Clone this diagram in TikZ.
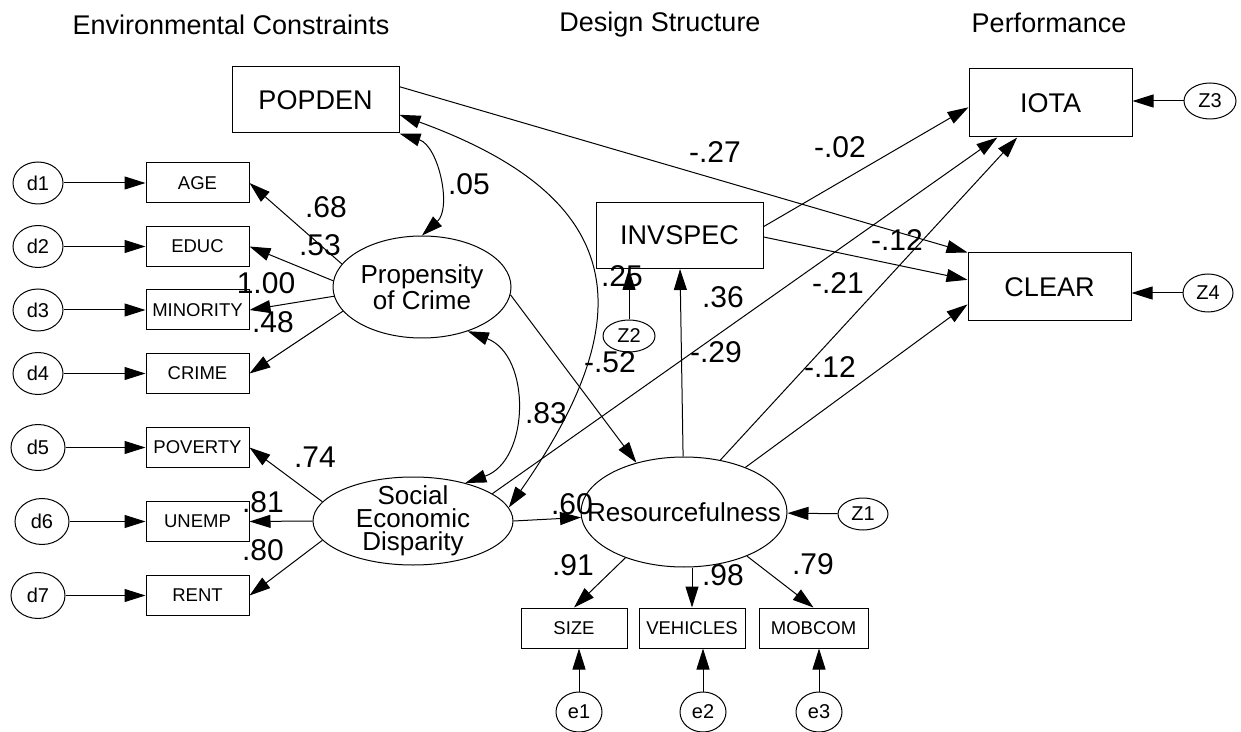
\documentclass[tikz,border=0pt]{standalone}
\usepackage{fontspec}
\setmainfont{Liberation Sans}
\usetikzlibrary{arrows.meta}
\usetikzlibrary{shapes.geometric}

\begin{document}
\begin{tikzpicture}[x=0.5pt,y=0.5pt,line width=0.5pt,node distance=31.75pt,
    >={Triangle[length=10.5pt,width=6.5pt]},
    obs/.style={draw,rectangle,inner sep=0pt,minimum width=51.5pt,minimum height=20pt,font=\fontsize{9.25}{11}\selectfont},
    big/.style={draw,rectangle,inner sep=0pt,minimum width=83.5pt,minimum height=33pt,font=\fontsize{13.5}{16}\selectfont},
    lat/.style={draw,ellipse,inner sep=0pt,label={[align=center,inner sep=0pt,font=\fontsize{13}{11.5}\selectfont]center:#1}},
    err/.style={draw,ellipse,inner sep=0pt,minimum width=25pt,minimum height=21pt,font=\fontsize{10}{12}\selectfont},
    coef/.style={inner sep=0pt,font=\fontsize{15}{18}\selectfont},
    head/.style={inner sep=0pt,font=\fontsize{13.5}{16}\selectfont}]
  \useasboundingbox (0,0) rectangle (1241,-732);

  \node[head] (ENV) at (231,-25) {Environmental Constraints};
  \node[head] (DES) at (660,-25) {Design Structure};
  \node[head] (PERF) at (1049,-23) {Performance};

  \node[big] (POPDEN) at (315.5,-100) {POPDEN};
  \node[big] (INVSPEC) at (679.5,-235.5) {INVSPEC};
  \node[big,minimum width=81.5pt,minimum height=34pt] (IOTA) at (1050.5,-103) {IOTA};
  \node[big,minimum width=81.5pt,minimum height=34pt] (CLEAR) at (1049.5,-287) {CLEAR};

  \node[obs] (AGE) at (197.5,-183) {AGE};
  \node[obs] (EDUC) [below of=AGE] {EDUC};
  \node[obs] (MINORITY) [below of=EDUC] {MINORITY};
  \node[obs] (CRIME) [below of=MINORITY] {CRIME};
  \node[obs] (POVERTY) [below of=CRIME,node distance=37pt] {POVERTY};
  \node[obs] (UNEMP) [below of=POVERTY,node distance=37pt] {UNEMP};
  \node[obs] (RENT) [below of=UNEMP,node distance=37pt] {RENT};

  \node[err] (d1) [left of=AGE,node distance=79.75pt] {d1};
  \node[err] (d2) [left of=EDUC,node distance=79.75pt] {d2};
  \node[err] (d3) [left of=MINORITY,node distance=79.75pt] {d3};
  \node[err] (d4) [left of=CRIME,node distance=79.75pt] {d4};
  \node[err,minimum width=27pt,minimum height=23pt] (d5) [left of=POVERTY,node distance=79.75pt] {d5};
  \node[err,minimum width=27pt,minimum height=23pt] (d6) [left of=UNEMP,node distance=77.75pt] {d6};
  \node[err,minimum width=27pt,minimum height=23pt] (d7) [left of=RENT,node distance=79.75pt] {d7};

  \node[lat={Propensity\\of Crime},minimum width=89pt,minimum height=51pt] (PROP) at (422,-287) {};
  \node[lat={Social\\Economic\\Disparity},minimum width=100pt,minimum height=44pt] (SED) at (413,-521) {};
  \node[lat=Resourcefulness,minimum width=103pt,minimum height=55pt] (RES) at (684,-512) {};

  \node[obs,minimum width=53pt] (SIZE) at (574,-628) {SIZE};
  \node[obs,minimum width=53pt] (VEHICLES) at (692,-628) {VEHICLES};
  \node[obs,minimum width=54.5pt] (MOBCOM) at (813.5,-628) {MOBCOM};
  \node[err,minimum width=23pt,minimum height=20pt] (e1) at (579,-712) {e1};
  \node[err,minimum width=23pt,minimum height=20pt] (e2) at (703,-712) {e2};
  \node[err,minimum width=23pt,minimum height=20pt] (e3) at (819,-712) {e3};

  \node[err,minimum width=25pt,minimum height=16pt] (Z1) at (863,-514) {Z1};
  \node[err,minimum width=26pt,minimum height=16pt] (Z2) at (629,-336) {Z2};
  \node[err,minimum width=26pt,minimum height=18pt] (Z3) at (1210,-101) {Z3};
  \node[err,minimum width=25pt,minimum height=19pt] (Z4) at (1208,-293) {Z4};

  \draw[->] (d1) -- (AGE);
  \draw[->] (d2) -- (EDUC);
  \draw[->] (d3) -- (MINORITY);
  \draw[->] (d4) -- (CRIME);
  \draw[->] (d5) -- (POVERTY);
  \draw[->] (d6) -- (UNEMP);
  \draw[->] (d7) -- (RENT);

  \draw[->] (PROP.164) -- (AGE.east);
  \draw[->] (PROP.176) -- (EDUC.east);
  \draw[->] (PROP.186) -- (MINORITY.east);
  \draw[->] (PROP.197) -- (CRIME.east);
  \draw[->] (SED.168) -- (POVERTY.east);
  \draw[->] (SED.west) -- (UNEMP.east);
  \draw[->] (SED.192) -- (RENT.east);

  \draw[<->] (POPDEN.south east) to[bend left=60] (PROP.north);
  \draw[<->] (PROP.-44) to[bend left=70,looseness=1.15] (SED.36);
  \draw[<->] (POPDEN.-10) to[out=-20,in=55,looseness=1.5] (SED.8);

  \draw[->] (SED.east) -- (RES);
  \draw[->] (PROP.-5) -- (RES.134);
  \draw[->] (RES) -- (INVSPEC);
  \draw[->] (Z2.north) -- (Z2.north |- INVSPEC.south);
  \draw[->] (Z1) -- (RES);

  \draw[->] (POPDEN.9) -- (CLEAR.north west);
  \draw[->] (INVSPEC.6) -- (IOTA.183);
  \draw[->] (INVSPEC.-1) -- (CLEAR.175);
  \draw[->] (SED.19) -- (IOTA.-147);
  \draw[->] (RES.55) -- (IOTA.-134);
  \draw[->] (RES.36) -- (CLEAR.-168);
  \draw[->] (Z3.west) -- (Z3.west -| IOTA.east);
  \draw[->] (Z4.west) -- (Z4.west -| CLEAR.east);

  \draw[->] (RES.-142) -- (SIZE.north);
  \draw[->] (RES.south -| VEHICLES.north) -- (VEHICLES.north);
  \draw[->] (RES.-35) -- (MOBCOM.north);
  \draw[->] (e1.north) -- (e1.north |- SIZE.south);
  \draw[->] (e2.north) -- (e2.north |- VEHICLES.south);
  \draw[->] (e3.north) -- (e3.north |- MOBCOM.south);

  \node[coef] (c05) at (469,-184) {.05};
  \node[coef] (c68) at (326,-207) {.68};
  \node[coef] (c53) at (320,-245) {.53};
  \node[coef] (c100) at (266,-283) {1.00};
  \node[coef] (c48) at (273,-322) {.48};
  \node[coef] (c74) at (315,-457) {.74};
  \node[coef] (c81) at (263,-502) {.81};
  \node[coef] (c80) at (263,-550) {.80};
  \node[coef] (c83) at (546,-413) {.83};
  \node[coef] (c60) at (572,-504) {.60};
  \node[coef] (c91) at (573,-565) {.91};
  \node[coef] (c98) at (723,-575) {.98};
  \node[coef] (c79) at (813,-564) {.79};
  \node[coef] (c25) at (622,-276) {.25};
  \node[coef] (c36) at (723,-297) {.36};
  \node[coef] (c52) at (610,-362) {-.52};
  \node[coef] (c29) at (716,-352) {-.29};
  \node[coef] (c27) at (715,-152) {-.27};
  \node[coef] (c02) at (840,-147) {-.02};
  \node[coef] (c12a) at (897,-240) {-.12};
  \node[coef] (c21) at (838,-283) {-.21};
  \node[coef] (c12b) at (830,-367) {-.12};
\end{tikzpicture}
\end{document}
